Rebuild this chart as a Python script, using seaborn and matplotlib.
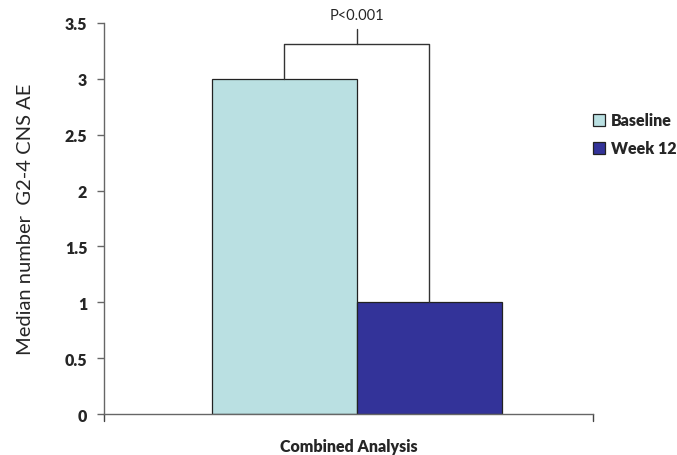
import matplotlib
matplotlib.use("Agg")
import matplotlib.pyplot as plt
import seaborn as sns
import pandas as pd

# Chart data
groups = ["Combined Analysis"]
timepoints = ["Baseline", "Week 12"]
medians = [3.0, 1.0]
p_label = "P<0.001"
y_ticks = [0, 0.5, 1, 1.5, 2, 2.5, 3, 3.5]
y_tick_labels = ["0", "0.5", "1", "1.5", "2", "2.5", "3", "3.5"]

df = pd.DataFrame({
    "group": groups * len(timepoints),
    "timepoint": timepoints,
    "median": medians,
})

sns.set_theme(style="white")
plt.rcParams["font.family"] = ["Lato", "DejaVu Sans"]

fig = plt.figure(figsize=(6.77, 4.56), dpi=100)
ax = fig.add_axes([0.1536, 0.0899, 0.7223, 0.8575])

palette = {"Baseline": "#bae0e2", "Week 12": "#333399"}
sns.barplot(data=df, x="group", y="median", hue="timepoint", hue_order=timepoints,
            palette=palette, width=0.593, edgecolor="#222222", linewidth=0.9,
            saturation=1, ax=ax)

ax.set_xlim(-0.5 - 0.017, 0.5 - 0.017)
ax.set_ylim(0, 3.5)
ax.set_yticks(y_ticks)
ax.set_yticklabels(y_tick_labels, fontweight="heavy", fontsize=11.5)
ax.set_xticks([])
ax.set_xlabel(groups[0], fontweight="heavy", fontsize=11.5, labelpad=17)
ax.set_ylabel("Median number  G2-4 CNS AE", fontsize=14.5, labelpad=22)

for side in ["top", "right"]:
    ax.spines[side].set_visible(False)
for side in ["left", "bottom"]:
    ax.spines[side].set_color("#666666")
    ax.spines[side].set_linewidth(1.0)
ax.tick_params(axis="y", left=True, length=5, width=1, color="#666666", pad=7)

# Minor end ticks on the category axis
for xe in ax.get_xlim():
    ax.plot([xe, xe], [0, -0.06], color="#444444", lw=1, clip_on=False)

# Significance bracket between the two bars
bars = ax.patches[:2]
xs = [b.get_x() + b.get_width() / 2 for b in bars]
tops = [b.get_height() for b in bars]
y_br = 3.31
ax.plot([xs[0], xs[0], xs[1], xs[1]], [tops[0], y_br, y_br, tops[1]],
        color="#333333", lw=1, clip_on=False)
xm = (xs[0] + xs[1]) / 2
ax.plot([xm, xm], [y_br, 3.45], color="#333333", lw=1, clip_on=False)
ax.text(xm, 3.51, p_label, ha="center", va="bottom", fontsize=10.5, clip_on=False)

leg = ax.legend(loc="center left", bbox_to_anchor=(0.97, 0.715), frameon=False,
                handlelength=0.75, handleheight=0.75, handletextpad=0.4,
                labelspacing=0.75, prop={"weight": "heavy", "size": 11.5})
for h in leg.legend_handles:
    h.set_edgecolor("#222222")

fig.savefig("out.png", dpi=100)
